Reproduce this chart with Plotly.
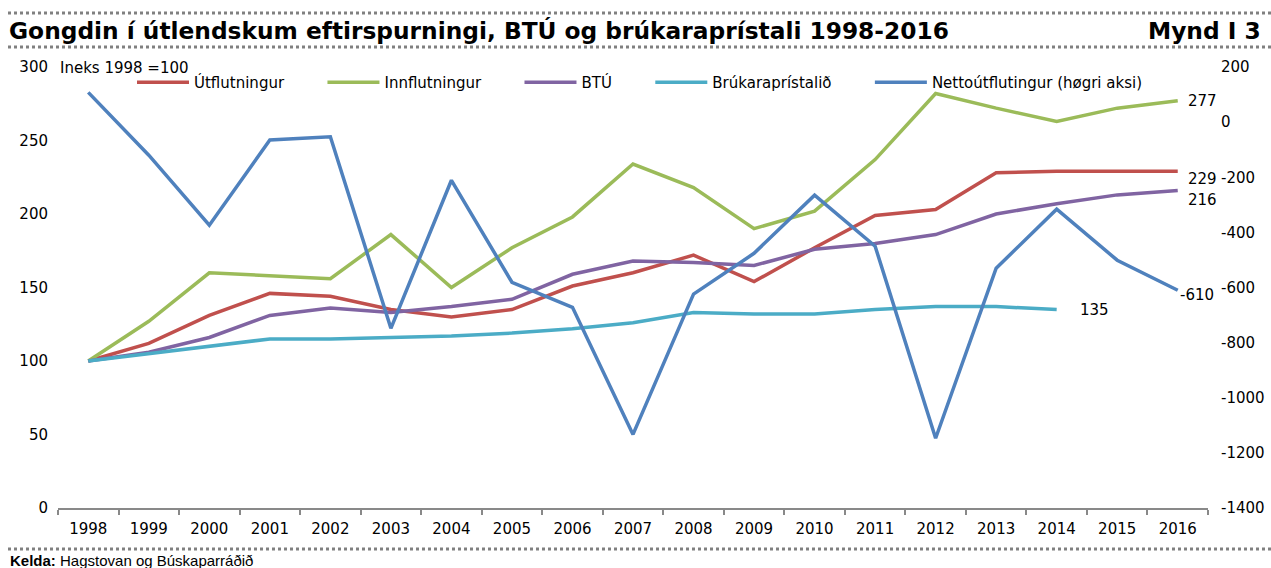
import plotly.graph_objects as go

years = [str(y) for y in range(1998, 2017)]
utflutningur = [100, 112, 131, 146, 144, 135, 130, 135, 151, 160, 172, 154, 177, 199, 203, 228, 229, 229, 229]
innflutningur = [100, 127, 160, 158, 156, 186, 150, 177, 198, 234, 218, 190, 202, 237, 282, 272, 263, 272, 277]
btu = [100, 106, 116, 131, 136, 133, 137, 142, 159, 168, 167, 165, 176, 180, 186, 200, 207, 213, 216]
brukarapristalid = [100, 105, 110, 115, 115, 116, 117, 119, 122, 126, 133, 132, 132, 135, 137, 137, 135, None, None]
nettoutflutingur = [108, -120, -374, -65, -53, -748, -211, -581, -672, -1133, -624, -476, -265, -450, -1147, -530, -316, -501, -610]

left_ticks = [0, 50, 100, 150, 200, 250, 300]
right_ticks = [-1400, -1200, -1000, -800, -600, -400, -200, 0, 200]

W, H = 1271, 568
L, R, T, B = 58, 63, 67, 60
PW, PH = W - L - R, H - T - B

def px(x):
    return (x - L) / PW

def py(y):
    return (H - B - y) / PH

FONT = "DejaVu Sans"
colors = {
    "u": "#C0504D", "i": "#9BBB59", "b": "#8064A2", "p": "#4BACC6", "n": "#4F81BD",
}
lw = 3.5
pad = "\u00a0" * 7

fig = go.Figure()
fig.add_trace(go.Scatter(x=years, y=utflutningur, name="Útflutningur" + pad,
                         mode="lines", line=dict(color=colors["u"], width=lw)))
fig.add_trace(go.Scatter(x=years, y=innflutningur, name="Innflutningur" + pad,
                         mode="lines", line=dict(color=colors["i"], width=lw)))
fig.add_trace(go.Scatter(x=years, y=btu, name="BTÚ" + pad,
                         mode="lines", line=dict(color=colors["b"], width=lw)))
fig.add_trace(go.Scatter(x=years, y=brukarapristalid, name="Brúkaraprístalið" + pad,
                         mode="lines", line=dict(color=colors["p"], width=lw)))
fig.add_trace(go.Scatter(x=years, y=nettoutflutingur, name="Nettoútflutingur (høgri aksi)",
                         mode="lines", line=dict(color=colors["n"], width=lw), yaxis="y2"))

# end labels (x given as category index)
def end_label(idx, yv, text, xshift, yshift, yref="y"):
    fig.add_annotation(x=idx, y=yv, xref="x", yref=yref, text=text, showarrow=False,
                       xanchor="left", yanchor="middle", xshift=xshift, yshift=yshift,
                       font=dict(family=FONT, size=15, color="black"))

last = len(years) - 1
end_label(last, innflutningur[last], str(innflutningur[last]), 8, 0)
end_label(last, utflutningur[last], str(utflutningur[last]), 8, -8)
end_label(last, btu[last], str(btu[last]), 8, -10)
end_label(last, nettoutflutingur[last], str(nettoutflutingur[last]), 0, -5, yref="y2")
end_label(16, brukarapristalid[16], str(brukarapristalid[16]), 21, 0)

# Index note
fig.add_annotation(x=px(58), y=py(68), xref="paper", yref="paper", text="Ineks 1998 =100",
                   showarrow=False, xanchor="left", yanchor="middle",
                   font=dict(family=FONT, size=15, color="black"))

# Title and figure number
fig.add_annotation(x=px(7), y=py(31), xref="paper", yref="paper",
                   text="<b>Gongdin í útlendskum eftirspurningi, BTÚ og brúkaraprístali 1998-2016</b>",
                   showarrow=False, xanchor="left", yanchor="middle",
                   font=dict(family=FONT, size=23.3, color="black"))
fig.add_annotation(x=px(1263), y=py(31), xref="paper", yref="paper", text="<b>Mynd I 3</b>",
                   showarrow=False, xanchor="right", yanchor="middle",
                   font=dict(family=FONT, size=23.3, color="black"))
# Source
fig.add_annotation(x=px(8), y=py(560), xref="paper", yref="paper",
                   text="<b>Kelda:</b> Hagstovan og Búskaparráðið",
                   showarrow=False, xanchor="left", yanchor="middle",
                   font=dict(family="Liberation Sans", size=15, color="black"))

# dotted separator lines
for yy in (13, 47, 549):
    fig.add_shape(type="line", xref="paper", yref="paper", x0=px(8), x1=px(1271), y0=py(yy), y1=py(yy),
                  line=dict(color="#808080", width=3, dash="dot"))

fig.update_layout(
    width=W, height=H,
    margin=dict(l=L, r=R, t=T, b=B, autoexpand=False),
    paper_bgcolor="white", plot_bgcolor="white",
    font=dict(family=FONT, size=15, color="black"),
    showlegend=True,
    legend=dict(orientation="h", x=px(132), y=py(66), xanchor="left", yanchor="top",
                font=dict(family=FONT, size=15, color="black"), bgcolor="rgba(0,0,0,0)",
                traceorder="normal", itemwidth=52),
    xaxis=dict(type="category", range=[-0.5, len(years) - 0.5], showgrid=False, showline=True,
               linecolor="#898989", linewidth=2,
               ticks="outside", tickson="boundaries", ticklen=5, tickwidth=2, tickcolor="#898989",
               tickfont=dict(family=FONT, size=15), tickangle=0, zeroline=False,
               ticklabelstandoff=6),
    yaxis=dict(range=[0, 300], tickvals=left_ticks, ticktext=[str(v) for v in left_ticks],
               showgrid=False, zeroline=False, showline=False, ticks="",
               ticklabelstandoff=9, tickfont=dict(family=FONT, size=15)),
    yaxis2=dict(range=[-1400, 200], overlaying="y", side="right",
                tickvals=right_ticks, ticktext=[str(v) for v in right_ticks],
                showgrid=False, zeroline=False, showline=False, ticks="",
                ticklabelstandoff=12, tickfont=dict(family=FONT, size=15)),
)

fig.write_html("out.html", config={"displayModeBar": False},
               post_script="document.body.style.margin='0';document.body.style.overflow='hidden';")
